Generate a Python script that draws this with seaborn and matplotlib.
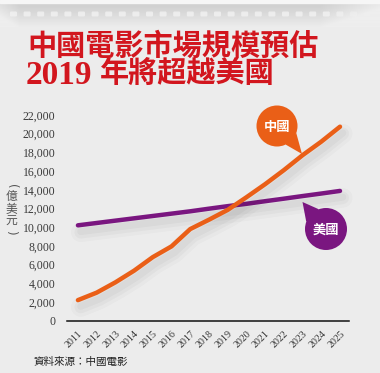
import numpy as np
import pandas as pd
import seaborn as sns
import matplotlib
matplotlib.use("Agg")
from matplotlib import pyplot as plt
from matplotlib import patheffects as pe
from matplotlib.patches import Circle, Polygon, Rectangle, FancyBboxPatch

# data (億美元)
years = list(range(2011, 2026))
china = [2200, 3000, 4100, 5350, 6800, 7950, 9800, 10800, 11850,
         13200, 14600, 16100, 17700, 19150, 20750]
usa = [10200, 10450, 10700, 10950, 11200, 11450, 11700, 11980, 12250,
       12500, 12780, 13050, 13330, 13600, 13880]
y_ticks = list(range(0, 22001, 2000))

title_1 = "中國電影市場規模預估"
title_2a = "2019"
title_2b = "年將超越美國"
y_label = ["(", "億", "美", "元", ")"]
source = "資料來源：中國電影"

BG = "#ececec"
RED = "#d2161e"
ORANGE = "#ea5f17"
PURPLE = "#7a1680"
CJK = ["Noto Sans CJK TC", "DejaVu Sans"]

sns.set_theme(style="white")
plt.rcParams["font.family"] = ["Liberation Serif", "Noto Sans CJK TC", "DejaVu Sans"]

W, H = 380, 373
fig = plt.figure(figsize=(W / 100, H / 100), dpi=100, facecolor=BG)

# film strip band at the top
band = fig.add_axes([0, 1 - 27 / H, 1, 27 / H])
band.set_axis_off()
grad = np.linspace(0, 1, 60)
vert = 0.80 + 0.125 * (grad[:, None] ** 1.2)
horiz = np.concatenate([np.linspace(0.06, 0, 20), np.zeros(300), np.linspace(0, 0.1, 60)])[None, :]
img = np.clip(vert + horiz, 0, 0.93)
band.imshow(img, cmap="gray", vmin=0, vmax=1, aspect="auto",
            extent=[0, W, 27, 0], interpolation="bilinear")
band.add_patch(Rectangle((0, 0), W, 3, color="#f6f6f6", zorder=2))
for x in np.arange(10, 372, 13.6):
    a = 0.8 if x < 330 else 0.8 - (x - 330) / 60
    band.add_patch(FancyBboxPatch((x, 11.5), 7, 5, boxstyle="round,pad=0,rounding_size=1.2",
                                  fc="#f2f2f2", ec="none", alpha=max(a, 0.15), zorder=3))
band.set_xlim(0, W)
band.set_ylim(27, 0)

# main chart
ax = fig.add_axes([66.7 / W, (H - 320.7) / H, (349 - 66.7) / W, (320.7 - 115) / H])
ax.set_facecolor("none")

def shadow():
    return [pe.SimpleLineShadow(offset=(2, -5), shadow_color="k", alpha=0.022, linewidth=14),
            pe.SimpleLineShadow(offset=(2, -5), shadow_color="k", alpha=0.03, linewidth=9),
            pe.SimpleLineShadow(offset=(2, -4.5), shadow_color="k", alpha=0.035, linewidth=5),
            pe.Normal()]

df = pd.DataFrame({"year": years, "china": china, "usa": usa})
sns.lineplot(data=df, x="year", y="usa", ax=ax, color=PURPLE, linewidth=3.2,
             solid_capstyle="round", path_effects=shadow(), clip_on=False)
sns.lineplot(data=df, x="year", y="china", ax=ax, color=ORANGE, linewidth=3.2,
             solid_capstyle="round", path_effects=shadow(), clip_on=False)

ax.set_xlim(2010.4, 2025.48)
ax.set_ylim(0, 22000)
ax.set_xticks(years)
ax.set_xticklabels([str(y) for y in years], rotation=45, ha="right",
                   rotation_mode="anchor", fontsize=7.2, color="#333333")
ax.set_yticks(y_ticks)
ax.set_yticklabels([f"{v:,}" for v in y_ticks], fontsize=8.5, color="#3a3a3a")
ax.tick_params(axis="y", length=0, pad=8)
ax.tick_params(axis="x", length=4, width=0.9, color="#111111", pad=2, direction="out")
for s in ["left", "right", "top"]:
    ax.spines[s].set_visible(False)
ax.spines["bottom"].set_color("#111111")
ax.spines["bottom"].set_linewidth(1.1)
ax.set_xlabel("")
ax.set_ylabel("")
ax.grid(False)

# overlay in pixel coordinates for titles and callouts
ov = fig.add_axes([0, 0, 1, 1], facecolor="none")
ov.set_axis_off()
ov.set_xlim(0, W)
ov.set_ylim(H, 0)

ov.text(27, 47, title_1, fontsize=21, fontweight="bold", color=RED,
        ha="left", va="center")
ov.text(26, 75, title_2a, fontsize=24, fontweight="bold", color=RED,
        ha="left", va="center")
ov.text(100, 74, title_2b, fontsize=21, fontweight="bold", color=RED,
        ha="left", va="center")

# vertical unit label, upright characters, brackets turned sideways
for i, ch in enumerate(y_label):
    rot = -90 if ch in "()" else 0
    ov.text(11, 186 + i * 11.5, ch, fontsize=8.5, color="#555555", rotation=rot,
            ha="center", va="center", rotation_mode="anchor",
            family=["DejaVu Sans"] if rot else CJK)

ov.text(33, 362, source, fontsize=7.6, color="#222222", ha="left", va="center",
        family=CJK)

def bubble(cx, cy, r, tip, base_angles, color, label):
    a1, a2 = np.radians(base_angles)
    p1 = (cx + r * np.cos(a1), cy - r * np.sin(a1))
    p2 = (cx + r * np.cos(a2), cy - r * np.sin(a2))
    ov.add_patch(Polygon([p1, tip, p2], closed=True, fc=color, ec="none", zorder=5))
    ov.add_patch(Circle((cx, cy), r, fc=color, ec="none", zorder=5))
    ov.text(cx, cy + 0.5, label, fontsize=9.5, fontweight="bold", color="white",
            ha="center", va="center", zorder=6, family=CJK)

bubble(277, 126, 20.5, (302, 154), (-20, -65), ORANGE, "中國")
bubble(326, 229, 21, (302.5, 202), (160, 110), PURPLE, "美國")

fig.savefig("out.png", dpi=100, facecolor=BG)
